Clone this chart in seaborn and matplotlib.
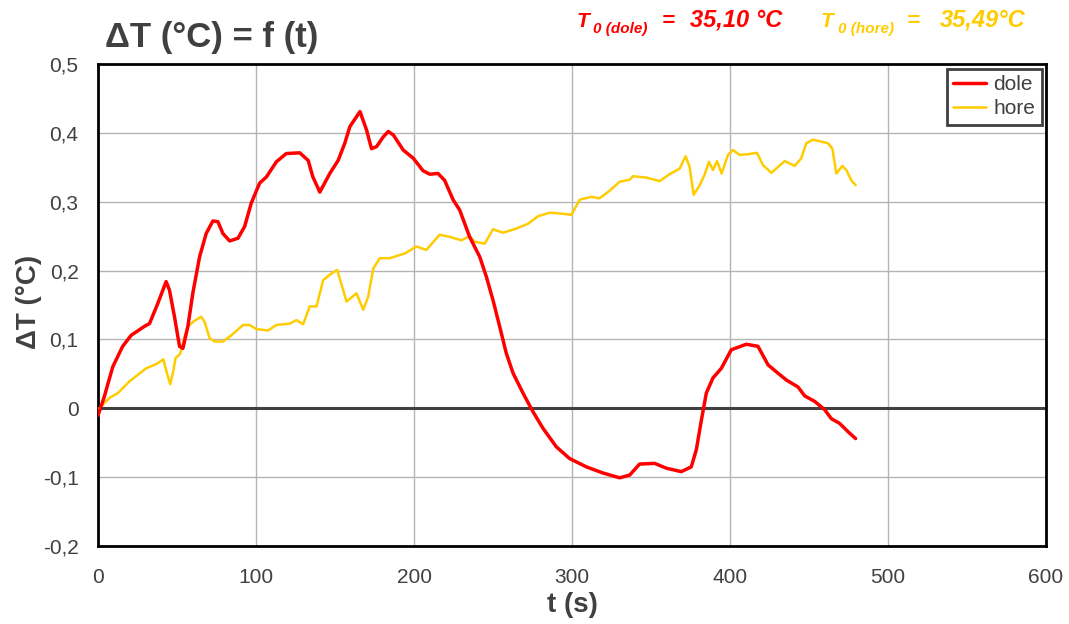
import numpy as np
import pandas as pd
import matplotlib
matplotlib.use("Agg")
import matplotlib.pyplot as plt
from matplotlib.ticker import FuncFormatter
import seaborn as sns

# data (t in s, dT in degC)
t_dole = [0, 0.8, 4, 9.3, 15.6, 21, 29.4, 32.6, 37.8, 43.1, 45.2, 48.4, 51.6, 53.7, 56.9,
          60, 64.3, 68.5, 72.7, 75.9, 79, 83.3, 88.6, 92.8, 97, 102.3, 106.6, 112.9, 119.2,
          127.7, 133, 136, 140.4, 146.7, 152, 156.2, 159.4, 165.8, 170, 173.1, 176.3, 180.5,
          183.7, 186.9, 193.2, 199.6, 205.7, 210, 215.2, 219.4, 224.7, 228.9, 235.2, 241.6,
          245.8, 250, 254.2, 258.4, 262.7, 269, 275.3, 281.6, 290.1, 298.5, 309, 319.6,
          330.2, 336.5, 342.8, 352.3, 359.7, 369.2, 375.5, 378.7, 381.9, 385, 389.2, 394.5,
          400.8, 410.3, 417.7, 424.1, 429.3, 435.7, 443, 447.3, 453.6, 459.9, 464.1, 469.4,
          474.7, 479.5]
dT_dole = [-0.01, -0.005, 0.017, 0.06, 0.09, 0.106, 0.119, 0.123, 0.152, 0.184, 0.172, 0.133,
           0.09, 0.087, 0.119, 0.167, 0.22, 0.254, 0.272, 0.271, 0.254, 0.243, 0.247, 0.264,
           0.298, 0.327, 0.336, 0.358, 0.37, 0.371, 0.36, 0.336, 0.314, 0.341, 0.36, 0.385,
           0.409, 0.431, 0.404, 0.377, 0.38, 0.394, 0.402, 0.397, 0.375, 0.363, 0.345, 0.34,
           0.341, 0.331, 0.303, 0.288, 0.249, 0.22, 0.191, 0.157, 0.119, 0.08, 0.051, 0.022,
           -0.005, -0.029, -0.056, -0.073, -0.085, -0.094, -0.101, -0.097, -0.081, -0.08,
           -0.087, -0.092, -0.085, -0.06, -0.017, 0.022, 0.044, 0.058, 0.085, 0.093, 0.09,
           0.063, 0.053, 0.041, 0.031, 0.018, 0.01, -0.002, -0.015, -0.022, -0.034, -0.044]

t_hore = [0, 0.8, 7.2, 12.5, 19.9, 30.4, 36.8, 41.4, 43.6, 45.7, 47.4, 49.1, 52, 54.8, 56.9,
          61.1, 65.3, 67.4, 70.6, 73.8, 79.1, 84.4, 91.8, 96, 100.2, 107.6, 112.9, 121.4,
          125.6, 129.8, 134, 138.3, 142.5, 146.7, 151.4, 157.3, 163.6, 167.9, 171, 174.2,
          178.4, 184.8, 194.3, 201.5, 207.8, 216.2, 222.6, 230, 235.2, 238.4, 244.7, 250,
          256.3, 264.8, 272.2, 278.5, 285.9, 292.2, 299.6, 304.9, 312.2, 317.5, 323.8, 330.2,
          336.5, 338.6, 347.1, 355.5, 361.8, 368.1, 371.9, 374.4, 377, 380.8, 383.9, 386.7,
          389.2, 391.8, 394.7, 398.7, 401.9, 406.1, 411.4, 417.1, 420.9, 426.2, 434.6, 440.9,
          445.1, 448.3, 452.5, 462, 464.8, 467.3, 471.1, 473.6, 476.8, 479.5]
dT_hore = [-0.005, 0.0, 0.015, 0.022, 0.039, 0.058, 0.064, 0.071, 0.051, 0.035, 0.051, 0.073,
           0.079, 0.104, 0.119, 0.127, 0.133, 0.126, 0.102, 0.097, 0.097, 0.106, 0.121, 0.121,
           0.115, 0.113, 0.121, 0.123, 0.128, 0.122, 0.148, 0.148, 0.186, 0.194, 0.201, 0.155,
           0.167, 0.143, 0.162, 0.203, 0.218, 0.218, 0.225, 0.235, 0.23, 0.252, 0.249, 0.244,
           0.25, 0.242, 0.239, 0.26, 0.255, 0.261, 0.268, 0.279, 0.284, 0.283, 0.281, 0.303,
           0.307, 0.305, 0.316, 0.329, 0.332, 0.337, 0.335, 0.33, 0.34, 0.348, 0.366, 0.351,
           0.31, 0.324, 0.339, 0.358, 0.346, 0.359, 0.341, 0.368, 0.375, 0.368, 0.369, 0.371,
           0.353, 0.342, 0.359, 0.352, 0.363, 0.385, 0.39, 0.385, 0.377, 0.341, 0.352, 0.346,
           0.331, 0.324]

x_ticks = [0, 100, 200, 300, 400, 500, 600]
y_ticks = [-0.2, -0.1, 0, 0.1, 0.2, 0.3, 0.4, 0.5]

RED = "#ff0000"
YEL = "#ffcc00"
GREY = "#404040"

sns.set_style("white")
plt.rcParams["font.family"] = ["Liberation Sans", "DejaVu Sans"]

df_dole = pd.DataFrame({"t": t_dole, "dT": dT_dole})
df_hore = pd.DataFrame({"t": t_hore, "dT": dT_hore})

W, H = 1069, 624
fig = plt.figure(figsize=(W / 100, H / 100), dpi=100)
ax = fig.add_axes([98 / W, 1 - 546 / H, 948 / W, 482 / H])

ax.grid(True, color="#b4b4b4", linewidth=1.0)
ax.axhline(0, color=GREY, linewidth=2.2, zorder=2)
sns.lineplot(data=df_dole, x="t", y="dT", ax=ax, color=RED, linewidth=2.5,
             label="dole", estimator=None, sort=False, zorder=4)
sns.lineplot(data=df_hore, x="t", y="dT", ax=ax, color=YEL, linewidth=1.8,
             label="hore", estimator=None, sort=False, zorder=3)

ax.set_xlim(0, 600)
ax.set_ylim(-0.2, 0.5)
ax.set_xticks(x_ticks)
ax.set_yticks(y_ticks)
ax.xaxis.set_major_formatter(FuncFormatter(lambda v, p: f"{v:g}"))
ax.yaxis.set_major_formatter(FuncFormatter(lambda v, p: f"{v:.1f}".replace(".", ",").replace("-0,0", "0").replace("0,0", "0")))
ax.tick_params(axis="y", length=0, labelsize=15, labelcolor=GREY, pad=14)
ax.tick_params(axis="x", length=0, labelsize=15, labelcolor=GREY, pad=16)
for s in ax.spines.values():
    s.set_color("black")
    s.set_linewidth(2)

ax.set_xlabel("t (s)", fontsize=20, fontweight="bold", color=GREY)
ax.xaxis.set_label_coords(0.5, -0.095)
ax.set_ylabel("ΔT (°C)", fontsize=20, fontweight="bold", color=GREY)
ax.yaxis.set_label_coords(-0.059, 0.506)

leg = ax.legend(loc="upper right", bbox_to_anchor=(0.9955, 0.99), fontsize=15,
                frameon=True, fancybox=False, framealpha=1, edgecolor=GREY,
                handlelength=1.6, handletextpad=0.35, borderpad=0.3, labelspacing=0.25,
                borderaxespad=0)
leg.get_frame().set_linewidth(2)
for txt in leg.get_texts():
    txt.set_color(GREY)

fig.text(105 / W, 1 - 38 / H, "ΔT (°C) = f (t)", fontsize=25, fontweight="bold",
         color=GREY, va="center", ha="left")

# header notes: T, subscript, "=", value - each placed where the reference has it
def note(xs, name, val, col):
    y = 1 - 27 / H
    kw = dict(fontweight="bold", style="italic", color=col, va="baseline")
    fig.text(xs[0] / W, y, "T", fontsize=15, **kw)
    fig.text(xs[1] / W, y - 6 / H, "0 (" + name + ")", fontsize=11, **kw)
    fig.text(xs[2] / W, y, "=", fontsize=16, **kw)
    fig.text(xs[3] / W, y, val, fontsize=17, **kw)

note([577, 593, 662, 690], "dole", "35,10 °C", RED)
note([821, 838, 907, 940], "hore", "35,49°C", YEL)

fig.savefig("out.png", dpi=100, facecolor="white")
